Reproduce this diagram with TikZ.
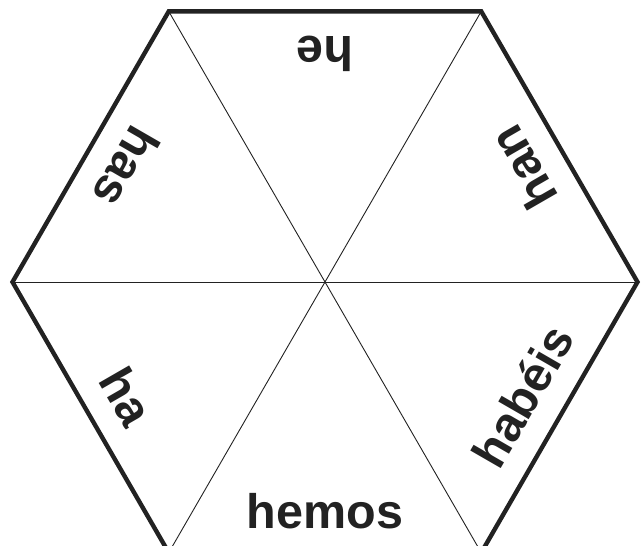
\documentclass[tikz,border=0pt]{standalone}
\usepackage{fontspec}
\setmainfont{Liberation Sans}
\usetikzlibrary{calc}
\begin{document}
\begin{tikzpicture}[x=1pt,y=1pt,
  outer/.style={draw=ink,line width=4.4pt,line join=miter},
  inner/.style={draw=ink,line width=0.9pt},
  lbl/.style={font=\bfseries\fontsize{48.5}{48.5}\selectfont,text=ink,inner sep=0pt,anchor=base}]
\definecolor{ink}{HTML}{222222}
\useasboundingbox (0,0) rectangle (643,-546);
\clip (0,0) rectangle (643,-546);
\coordinate (c) at (325,-282);
\foreach \i in {0,...,5}{
  \coordinate (v\i) at ($(c)+(\i*60:312.5)$);
}
\draw[inner] (v0) -- (v3);
\draw[inner] (v1) -- (v4);
\draw[inner] (v2) -- (v5);
\draw[outer] (v0) -- (v1) -- (v2) -- (v3) -- (v4) -- (v5) -- cycle;
\node[lbl,rotate=180] (he) at ($(c)+(90:246)$) {he};
\node[lbl,rotate=120] (han) at ($(c)+(30:246)$) {han};
\node[lbl,rotate=60] (habeis) at ($(c)+(-30:246)$) {habéis};
\node[lbl,rotate=0] (hemos) at ($(c)+(-90:246)$) {hemos};
\node[lbl,rotate=-60] (ha) at ($(c)+(-150:246)$) {ha};
\node[lbl,rotate=-120] (has) at ($(c)+(150:246)$) {has};
\end{tikzpicture}
\end{document}
